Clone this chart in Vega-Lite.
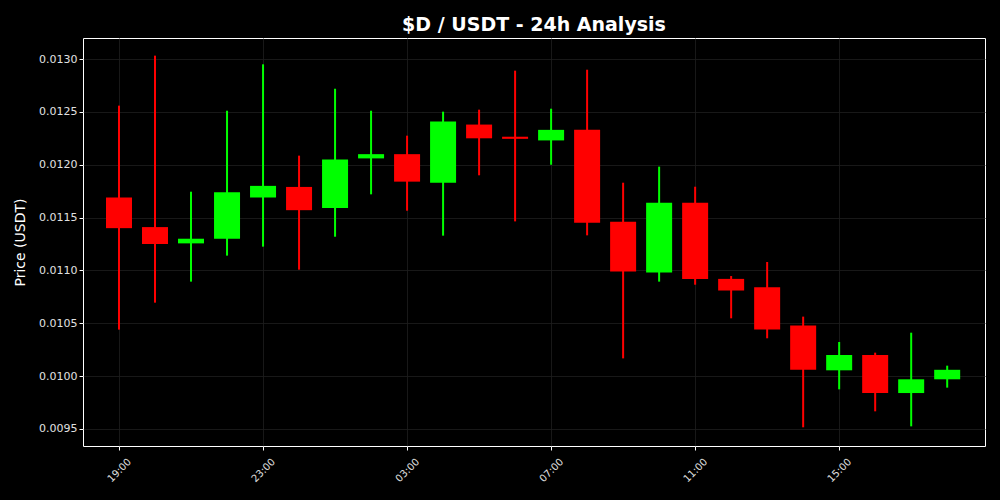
{
  "$schema": "https://vega.github.io/schema/vega-lite/v6.json",
  "width": 902,
  "height": 408,
  "autosize": {"type": "none"},
  "padding": {"left": 83, "top": 38, "right": 15, "bottom": 54},
  "background": "#000000",
  "config": {
    "font": "DejaVu Sans",
    "view": {"stroke": "#ffffff", "strokeWidth": 1, "fill": "#000000"},
    "axis": {
      "domain": false,
      "grid": true,
      "gridColor": "#1e1e1e",
      "gridWidth": 0.8,
      "tickColor": "#ffffff",
      "tickSize": 4,
      "labelColor": "#e0e0e0",
      "labelFont": "DejaVu Sans",
      "titleColor": "#ffffff",
      "titleFont": "DejaVu Sans",
      "titleFontWeight": "normal"
    }
  },
  "title": {
    "text": "$D / USDT - 24h Analysis",
    "color": "#ffffff",
    "fontSize": 19,
    "fontWeight": "bold",
    "font": "DejaVu Sans",
    "anchor": "middle",
    "offset": 3
  },
  "data": {
    "values": [
      {"t": "2024-01-01T19:00:00", "open": 0.01169, "close": 0.01140, "high": 0.012559, "low": 0.010440},
      {"t": "2024-01-01T20:00:00", "open": 0.01141, "close": 0.01125, "high": 0.013032, "low": 0.010695},
      {"t": "2024-01-01T21:00:00", "open": 0.011256, "close": 0.01130, "high": 0.011745, "low": 0.010894},
      {"t": "2024-01-01T22:00:00", "open": 0.01130, "close": 0.01174, "high": 0.012511, "low": 0.011140},
      {"t": "2024-01-01T23:00:00", "open": 0.01169, "close": 0.01180, "high": 0.012950, "low": 0.011225},
      {"t": "2024-01-02T00:00:00", "open": 0.01179, "close": 0.01157, "high": 0.012086, "low": 0.011007},
      {"t": "2024-01-02T01:00:00", "open": 0.01159, "close": 0.01205, "high": 0.012719, "low": 0.011319},
      {"t": "2024-01-02T02:00:00", "open": 0.01206, "close": 0.01210, "high": 0.012511, "low": 0.011720},
      {"t": "2024-01-02T03:00:00", "open": 0.01210, "close": 0.01184, "high": 0.012275, "low": 0.011565},
      {"t": "2024-01-02T04:00:00", "open": 0.01183, "close": 0.01241, "high": 0.012502, "low": 0.011329},
      {"t": "2024-01-02T05:00:00", "open": 0.01238, "close": 0.01225, "high": 0.012521, "low": 0.011900},
      {"t": "2024-01-02T06:00:00", "open": 0.012265, "close": 0.012245, "high": 0.012890, "low": 0.011464},
      {"t": "2024-01-02T07:00:00", "open": 0.01223, "close": 0.01233, "high": 0.012530, "low": 0.012000},
      {"t": "2024-01-02T08:00:00", "open": 0.01233, "close": 0.01145, "high": 0.012899, "low": 0.011332},
      {"t": "2024-01-02T09:00:00", "open": 0.01146, "close": 0.01099, "high": 0.011830, "low": 0.010168},
      {"t": "2024-01-02T10:00:00", "open": 0.01098, "close": 0.01164, "high": 0.011982, "low": 0.010894},
      {"t": "2024-01-02T11:00:00", "open": 0.01164, "close": 0.01092, "high": 0.011792, "low": 0.010865},
      {"t": "2024-01-02T12:00:00", "open": 0.01092, "close": 0.01081, "high": 0.010947, "low": 0.010547},
      {"t": "2024-01-02T13:00:00", "open": 0.01084, "close": 0.01044, "high": 0.011080, "low": 0.010358},
      {"t": "2024-01-02T14:00:00", "open": 0.01048, "close": 0.01006, "high": 0.010563, "low": 0.009516},
      {"t": "2024-01-02T15:00:00", "open": 0.010055, "close": 0.01020, "high": 0.010323, "low": 0.009875},
      {"t": "2024-01-02T16:00:00", "open": 0.01020, "close": 0.00984, "high": 0.010222, "low": 0.009667},
      {"t": "2024-01-02T17:00:00", "open": 0.00984, "close": 0.00997, "high": 0.010411, "low": 0.009525},
      {"t": "2024-01-02T18:00:00", "open": 0.00997, "close": 0.01006, "high": 0.010099, "low": 0.009891}
    ]
  },
  "encoding": {
    "x": {
      "field": "t",
      "type": "temporal",
      "title": null,
      "scale": {
        "padding": 0,
        "nice": false,
        "domain": [
          {"year": 2024, "month": 1, "date": 1, "hours": 18, "minutes": 0},
          {"year": 2024, "month": 1, "date": 2, "hours": 19, "minutes": 3}
        ]
      },
      "axis": {
        "format": "%H:%M",
        "labelAngle": -45,
        "labelAlign": "center",
        "labelBaseline": "middle",
        "labelFontSize": 10,
        "labelPadding": 20,
        "labelFlush": false,
        "values": [
          {"year": 2024, "month": 1, "date": 1, "hours": 19},
          {"year": 2024, "month": 1, "date": 1, "hours": 23},
          {"year": 2024, "month": 1, "date": 2, "hours": 3},
          {"year": 2024, "month": 1, "date": 2, "hours": 7},
          {"year": 2024, "month": 1, "date": 2, "hours": 11},
          {"year": 2024, "month": 1, "date": 2, "hours": 15}
        ]
      }
    },
    "color": {
      "condition": {"test": "datum.close >= datum.open", "value": "#00ff00"},
      "value": "#ff0000"
    }
  },
  "layer": [
    {
      "mark": {"type": "rule", "strokeWidth": 2},
      "encoding": {
        "y": {
          "field": "low",
          "type": "quantitative",
          "title": "Price (USDT)",
          "scale": {"domain": [0.009339, 0.013199], "nice": false, "zero": false},
          "axis": {
            "values": [0.0095, 0.0100, 0.0105, 0.0110, 0.0115, 0.0120, 0.0125, 0.0130],
            "format": ".4f",
            "labelFontSize": 11,
            "titleFontSize": 14,
            "titlePadding": 11
          }
        },
        "y2": {"field": "high"}
      }
    },
    {
      "mark": {"type": "bar", "size": 26},
      "encoding": {
        "y": {"field": "open", "type": "quantitative"},
        "y2": {"field": "close"}
      }
    }
  ]
}
